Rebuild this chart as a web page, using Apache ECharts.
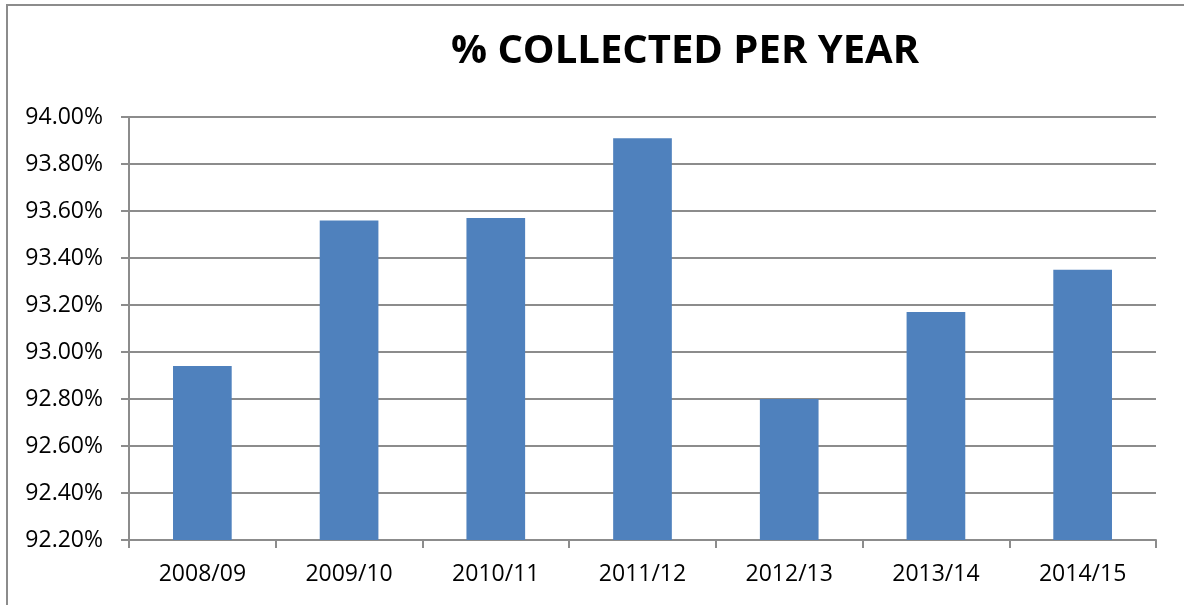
<!DOCTYPE html>
<html>
<head>
<meta charset="utf-8">
<title>% Collected per year</title>
<script src="https://cdn.jsdelivr.net/npm/echarts@6/dist/echarts.min.js"></script>
<style>
	html, body { margin: 0; padding: 0; background: #fff; }
	#chart { width: 1184px; height: 605px; }
</style>
</head>
<body>
<div id="chart"></div>
<script>
	var years = ['2008/09', '2009/10', '2010/11', '2011/12', '2012/13', '2013/14', '2014/15'];
	var collected = [92.94, 93.56, 93.57, 93.91, 92.80, 93.17, 93.35];
	var yMin = 92.2, yMax = 94.0, yStep = 0.2;

	var myChart = echarts.init(document.getElementById('chart'));
	var font = 'Open Sans, Noto Sans, sans-serif';
	var option = {
		animation: false,
		title: {
			text: '% COLLECTED PER YEAR',
			left: 680,
			top: 27,
			textAlign: 'center',
			textStyle: { fontFamily: font, fontSize: 40, fontWeight: 'bold', color: '#000' }
		},
		// 外框
		graphic: [{
			type: 'rect',
			shape: { x: 7, y: 5, width: 1200, height: 640 },
			style: { fill: 'none', stroke: '#8c8c8c', lineWidth: 2 }
		}],
		grid: { left: 129, right: 28, top: 117, bottom: 65 },
		xAxis: {
			type: 'category',
			data: years,
			axisLine: { lineStyle: { color: '#8c8c8c', width: 2 } },
			axisTick: { show: true, length: 8, alignWithLabel: false, lineStyle: { color: '#8c8c8c', width: 2 } },
			axisLabel: { fontFamily: font, fontSize: 23, color: '#000', margin: 23 }
		},
		yAxis: {
			type: 'value',
			min: yMin,
			max: yMax,
			interval: yStep,
			axisLine: { show: true, lineStyle: { color: '#8c8c8c', width: 2 } },
			axisTick: { show: true, length: 8, lineStyle: { color: '#8c8c8c', width: 2 } },
			splitLine: { lineStyle: { color: '#8c8c8c', width: 2 } },
			axisLabel: {
				fontFamily: font, fontSize: 23, color: '#000', margin: 26,
				formatter: function(v) { return v.toFixed(2) + '%'; }
			}
		},
		series: [{
			type: 'bar',
			data: collected,
			barWidth: '40%',
			itemStyle: { color: '#4f81bd' }
		}]
	};
	myChart.setOption(option);
</script>
</body>
</html>
